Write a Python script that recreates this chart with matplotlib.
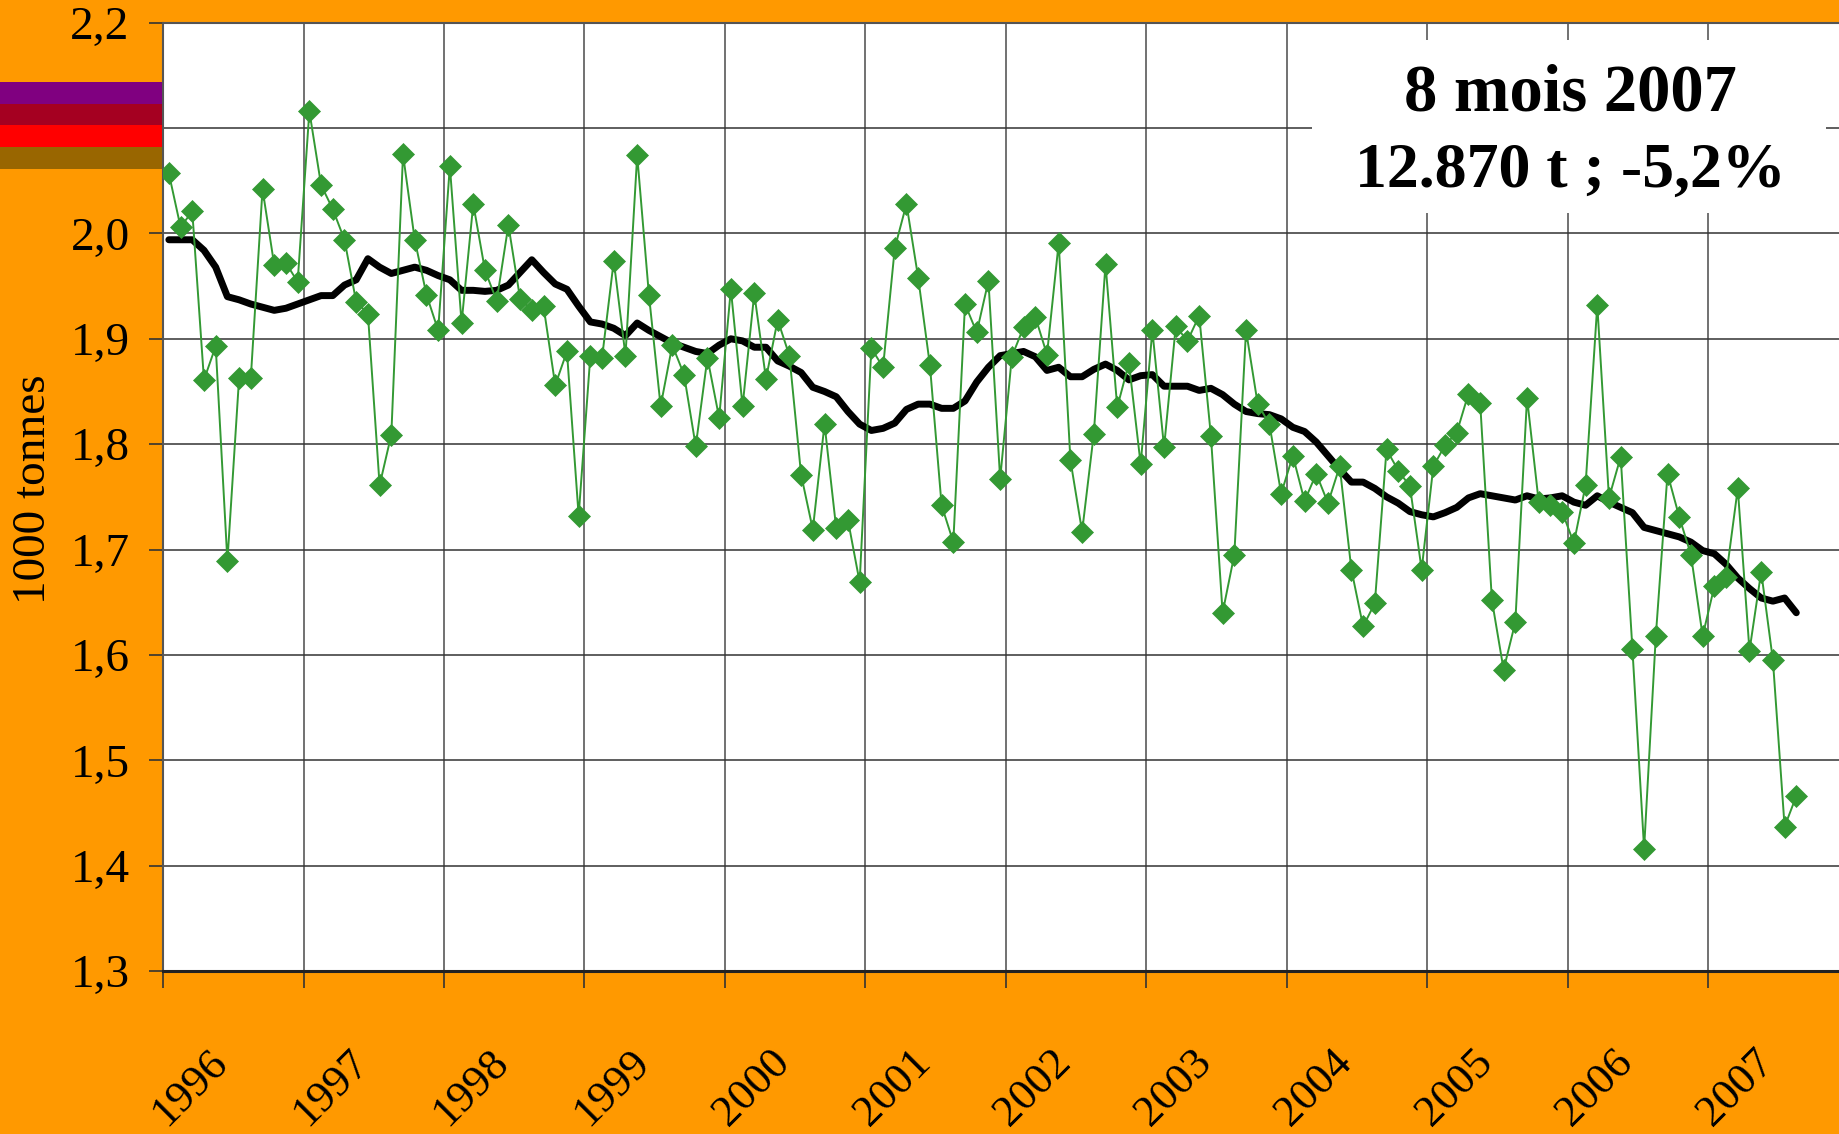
import matplotlib
matplotlib.use("Agg")
import matplotlib.pyplot as plt
from matplotlib.patches import Rectangle
from matplotlib.ticker import FixedLocator, FixedFormatter
import numpy as np

# ---------------- data ----------------
years = ["1996", "1997", "1998", "1999", "2000", "2001", "2002",
         "2003", "2004", "2005", "2006", "2007"]

monthly = [
    # 1996
    2.057, 2.006, 2.021, 1.861, 1.893, 1.689, 1.863, 1.863, 2.042, 1.970, 1.972, 1.954,
    # 1997
    2.116, 2.046, 2.023, 1.994, 1.935, 1.924, 1.761, 1.809, 2.075, 1.994, 1.942, 1.908,
    # 1998
    2.064, 1.915, 2.028, 1.965, 1.936, 2.008, 1.938, 1.927, 1.931, 1.856, 1.888, 1.732,
    # 1999
    1.884, 1.882, 1.974, 1.884, 2.074, 1.942, 1.836, 1.894, 1.866, 1.798, 1.882, 1.825,
    # 2000
    1.947, 1.836, 1.943, 1.862, 1.918, 1.884, 1.771, 1.719, 1.819, 1.720, 1.728, 1.669,
    # 2001
    1.891, 1.873, 1.986, 2.028, 1.958, 1.875, 1.742, 1.707, 1.933, 1.906, 1.955, 1.767,
    # 2002
    1.883, 1.911, 1.921, 1.885, 1.991, 1.785, 1.717, 1.810, 1.971, 1.835, 1.877, 1.781,
    # 2003
    1.908, 1.797, 1.912, 1.898, 1.922, 1.808, 1.640, 1.695, 1.908, 1.838, 1.819, 1.753,
    # 2004
    1.789, 1.746, 1.772, 1.744, 1.779, 1.681, 1.627, 1.649, 1.795, 1.775, 1.760, 1.681,
    # 2005
    1.779, 1.799, 1.811, 1.848, 1.839, 1.652, 1.586, 1.631, 1.844, 1.745, 1.742, 1.736,
    # 2006
    1.706, 1.761, 1.932, 1.749, 1.788, 1.606, 1.416, 1.618, 1.772, 1.731, 1.695, 1.618,
    # 2007
    1.665, 1.674, 1.758, 1.604, 1.679, 1.595, 1.437, 1.466,
]

moving_avg = [
    # 1996
    1.994, 1.994, 1.994, 1.984, 1.968, 1.940, 1.937, 1.933, 1.930, 1.927, 1.929, 1.933,
    # 1997
    1.937, 1.941, 1.941, 1.951, 1.956, 1.976, 1.968, 1.962, 1.965, 1.968, 1.965, 1.960,
    # 1998
    1.956, 1.946, 1.946, 1.945, 1.946, 1.951, 1.963, 1.975, 1.963, 1.952, 1.947, 1.931,
    # 1999
    1.916, 1.914, 1.910, 1.903, 1.915, 1.908, 1.902, 1.896, 1.892, 1.888, 1.886, 1.894,
    # 2000
    1.900, 1.898, 1.892, 1.892, 1.879, 1.874, 1.868, 1.854, 1.850, 1.845, 1.831, 1.819,
    # 2001
    1.813, 1.815, 1.820, 1.833, 1.838, 1.838, 1.834, 1.834, 1.841, 1.859, 1.873, 1.884,
    # 2002
    1.886, 1.888, 1.883, 1.870, 1.873, 1.864, 1.864, 1.871, 1.876, 1.870, 1.861, 1.865,
    # 2003
    1.866, 1.855, 1.855, 1.855, 1.851, 1.853, 1.847, 1.838, 1.831, 1.829, 1.828, 1.824,
    # 2004
    1.816, 1.812, 1.802, 1.789, 1.776, 1.764, 1.764, 1.758, 1.750, 1.744, 1.736, 1.733,
    # 2005
    1.731, 1.735, 1.740, 1.749, 1.753, 1.751, 1.749, 1.747, 1.751, 1.748, 1.749, 1.751,
    # 2006
    1.745, 1.742, 1.751, 1.745, 1.740, 1.735, 1.721, 1.718, 1.715, 1.712, 1.707, 1.699,
    # 2007
    1.696, 1.686, 1.673, 1.663, 1.654, 1.651, 1.654, 1.640,
]

y_ticks = [1.3, 1.4, 1.5, 1.6, 1.7, 1.8, 1.9, 2.0, 2.1, 2.2]
y_tick_labels = ["1,3", "1,4", "1,5", "1,6", "1,7", "1,8", "1,9", "2,0", "2,1", "2,2"]

box_lines = ["8 mois 2007", "12.870 t ; -5,2%"]
y_label = "1000 tonnes"
strip_colors = ["#800080", "#A50021", "#FF0000", "#996600"]

# ---------------- style ----------------
ORANGE = "#FF9900"
GREEN = "#339933"
SERIF = ["Liberation Serif", "DejaVu Serif"]

W, H = 1840, 1134
fig = plt.figure(figsize=(W / 100, H / 100), dpi=100, facecolor=ORANGE)

ax_left, ax_top, ax_bottom = 163, 22.7, 971
ax = fig.add_axes([ax_left / W, 1 - ax_bottom / H, (W - ax_left) / W,
                   (ax_bottom - ax_top) / H])
ax.set_facecolor("white")

month_w = 140.5 / 12.0
n = len(monthly)
x = np.arange(n) + 0.5

ax.plot(x, moving_avg, color="black", lw=5.0, solid_joinstyle="round",
        solid_capstyle="round", zorder=3)
ax.plot(x, monthly, color=GREEN, lw=1.4, marker="D", ms=11.5,
        markerfacecolor=GREEN, markeredgecolor=GREEN, markeredgewidth=0.5,
        zorder=4)

ax.set_xlim(0, (W - ax_left) / month_w)
ax.set_ylim(1.3, 2.2)

# y axis
ax.yaxis.set_major_locator(FixedLocator(y_ticks))
ax.yaxis.set_major_formatter(FixedFormatter(y_tick_labels))
ax.tick_params(axis="y", which="major", direction="out", length=10, width=1.2,
               color="#333333", pad=14, labelsize=34)

# x axis: year boundaries as major ticks, labels as minor ticks
year_pos = [12 * k for k in range(len(years))]
ax.xaxis.set_major_locator(FixedLocator(year_pos))
ax.xaxis.set_major_formatter(FixedFormatter([""] * len(years)))
ax.xaxis.set_minor_locator(FixedLocator([p + 2.3 for p in year_pos]))
ax.xaxis.set_minor_formatter(FixedFormatter(years))
ax.tick_params(axis="x", which="major", direction="out", length=12, width=1.2,
               color="#333333")
ax.tick_params(axis="x", which="minor", length=0, pad=51, labelsize=32)
for lab in ax.get_xticklabels(minor=True):
    lab.set_rotation(45)
    lab.set_ha("center")
    lab.set_va("top")
    lab.set_family(SERIF)
for lab in ax.get_yticklabels():
    lab.set_family(SERIF)

ax.set_axisbelow(True)
ax.grid(axis="y", which="major", color="#333333", lw=1.1)
ax.grid(axis="x", which="major", color="#666666", lw=1.3)

for side, sp in ax.spines.items():
    sp.set_color("#555555")
    sp.set_linewidth(1.5)
ax.spines["bottom"].set_color("#222222")
ax.spines["bottom"].set_linewidth(2.2)
ax.spines["right"].set_visible(False)

# white annotation box covering the grid
ax.add_patch(Rectangle((0.6852, 0.7993), 0.9917 - 0.6852, 0.9818 - 0.7993,
                       transform=ax.transAxes, facecolor="white",
                       edgecolor="none", zorder=2))
ax.text(0.839, 0.9079, box_lines[0], transform=ax.transAxes, ha="center",
        va="baseline", fontsize=48, fontweight="bold", family=SERIF, zorder=5)
ax.text(0.839, 0.8267, box_lines[1], transform=ax.transAxes, ha="center",
        va="baseline", fontsize=46, fontweight="bold", family=SERIF, zorder=5)

# y label
fig.text(34 / W, 1 - 489 / H, y_label, rotation=90, ha="center", va="center",
         fontsize=34, family=SERIF)

# coloured strips at the top-left
strip_top, strip_h = 82, 21.7
for i, c in enumerate(strip_colors):
    fig.patches.append(Rectangle((0, 1 - (strip_top + (i + 1) * strip_h) / H),
                                 162 / W, strip_h / H,
                                 transform=fig.transFigure, facecolor=c,
                                 edgecolor="none", zorder=1))

fig.savefig("out.png", dpi=100, facecolor=ORANGE)
